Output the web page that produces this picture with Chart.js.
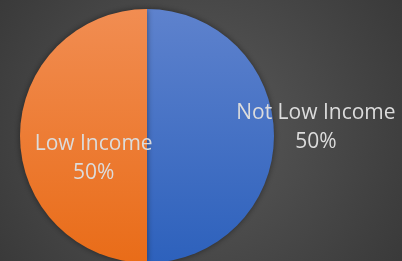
<!DOCTYPE html>
<html>
<head>
<meta charset="utf-8">
<script src="https://cdn.jsdelivr.net/npm/chart.js@4/dist/chart.umd.min.js"></script>
<style>
  html, body { margin: 0; padding: 0; overflow: hidden; background: #444; }
  #wrap { position: relative; width: 402px; height: 265px; }
</style>
</head>
<body>
<div id="wrap"><canvas id="pie"></canvas></div>
<script>
// data
const categories = ["Not Low Income", "Low Income"];
const shares = [50, 50];
const percentLabels = ["50%", "50%"];

// slice gradients (top -> bottom)
const sliceTop = ["#5e82cd", "#f18d52"];
const sliceBottom = ["#2d61bc", "#e96c18"];

function sliceFill(ctx) {
  const chart = ctx.chart;
  const area = chart.chartArea;
  if (!area) return sliceBottom[ctx.dataIndex];
  const g = chart.ctx.createLinearGradient(0, area.top, 0, area.bottom);
  g.addColorStop(0, sliceTop[ctx.dataIndex]);
  g.addColorStop(1, sliceBottom[ctx.dataIndex]);
  return g;
}

// radial dark background
const backdrop = {
  id: "backdrop",
  beforeDraw(chart) {
    const c = chart.ctx;
    const w = chart.width, h = chart.height;
    const g = c.createRadialGradient(200, 130, 10, 200, 130, 260);
    g.addColorStop(0, "#585858");
    g.addColorStop(1, "#373737");
    c.save();
    c.fillStyle = g;
    c.fillRect(0, 0, w, h);
    c.restore();
  },
  beforeDatasetsDraw(chart) {
    const c = chart.ctx;
    c.save();
    c.shadowColor = "rgba(0,0,0,0.45)";
    c.shadowBlur = 6;
  },
  afterDatasetsDraw(chart) {
    chart.ctx.restore();
  }
};

// data labels, placed relative to each arc (offsets in radius units)
const labelPlacement = [
  { dx: 1.33, dy: -0.07 },
  { dx: -0.42, dy: 0.17 }
];

const sliceLabels = {
  id: "sliceLabels",
  afterDatasetsDraw(chart) {
    const c = chart.ctx;
    const arcs = chart.getDatasetMeta(0).data;
    c.save();
    c.font = "21px 'Open Sans'";
    c.fillStyle = "#dcdcdc";
    c.textAlign = "center";
    c.textBaseline = "middle";
    arcs.forEach((arc, i) => {
      const r = arc.outerRadius;
      const x = arc.x + labelPlacement[i].dx * r;
      const y = arc.y + labelPlacement[i].dy * r;
      c.fillText(categories[i], x, y - 14);
      c.fillText(percentLabels[i], x, y + 15);
    });
    c.restore();
  }
};

new Chart(document.getElementById("pie"), {
  type: "pie",
  data: {
    labels: categories,
    datasets: [{
      data: shares,
      backgroundColor: sliceFill,
      borderWidth: 0
    }]
  },
  options: {
    responsive: true,
    maintainAspectRatio: false,
    animation: false,
    layout: { padding: { left: 20, right: 128, top: 9, bottom: 2 } },
    plugins: {
      legend: { display: false },
      tooltip: { enabled: false }
    }
  },
  plugins: [backdrop, sliceLabels]
});
</script>
</body>
</html>
